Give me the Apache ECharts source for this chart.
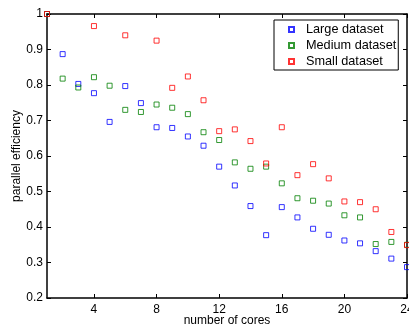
<!DOCTYPE html>
<html><head><meta charset="utf-8">
<script src="https://cdn.jsdelivr.net/npm/echarts@6/dist/echarts.min.js"></script>
<style>html,body{margin:0;padding:0;background:#fff}#c{width:409px;height:329px}</style>
</head><body><div id="c"></div>
<script>
var cores = [1,2,3,4,5,6,7,8,9,10,11,12,13,14,15,16,17,18,19,20,21,22,23,24];
var largeEff  = [1.0,0.887,0.803,0.777,0.696,0.797,0.749,0.681,0.679,0.655,0.629,0.570,0.517,0.459,0.377,0.456,0.427,0.395,0.378,0.362,0.354,0.332,0.311,0.287];
var mediumEff = [1.0,0.818,0.793,0.822,0.798,0.730,0.724,0.745,0.736,0.718,0.667,0.645,0.582,0.564,0.570,0.523,0.481,0.474,0.466,0.433,0.427,0.352,0.358,0.350];
var smallEff  = [1.0,null,null,0.966,null,0.940,null,0.925,0.792,0.824,0.757,0.670,0.675,0.642,0.579,0.681,0.546,0.577,0.537,0.472,0.470,0.450,0.386,0.349];
var seriesNames = ['Large dataset','Medium dataset','Small dataset'];
var colors = ['#0000ff','#008000','#ff0000'];
var xTicks = [4,8,12,16,20,24];

function pairs(vals){ var out=[]; for(var i=0;i<cores.length;i++){ if(vals[i]!==null) out.push([cores[i],vals[i]]); } return out; }
var allData = [largeEff, mediumEff, smallEff];
var font = 'Liberation Sans, Arial, sans-serif';
var chart = echarts.init(document.getElementById('c'));
var series = allData.map(function(d,i){
  return {name:seriesNames[i], type:'scatter', data:pairs(d), symbol:'rect', symbolSize:5,
    itemStyle:{color:'transparent', borderColor:colors[i], borderWidth:1}, clip:false, z:2+(i)};
});
chart.setOption({
  animation:false,
  backgroundColor:'#fff',
  grid:{left:47,right:2,top:14,bottom:31,outerBoundsMode:'none',containLabel:false},
  legend:{orient:'vertical', left:274, top:20, data:seriesNames,
    borderColor:'#000', borderWidth:1, backgroundColor:'#fff', padding:[3,2,2,14],
    itemGap:3, itemWidth:5, itemHeight:5, textStyle:{fontFamily:font,fontSize:12.7,color:'#000',padding:[0,0,0,7]}},
  xAxis:[{type:'value', min:1, max:24, position:'bottom', name:'number of cores', nameLocation:'middle', nameGap:17, nameMoveOverlap:false,
    nameTextStyle:{fontFamily:font,fontSize:12,color:'#000'},
    axisLine:{show:true,onZero:false,lineStyle:{color:'#000',width:1.5}},
    axisTick:{show:true,inside:true,length:4,customValues:xTicks,lineStyle:{color:'#000'}},
    axisLabel:{customValues:xTicks,fontFamily:font,fontSize:12,color:'#000',margin:6,hideOverlap:false},
    splitLine:{show:false}},
   {type:'value', min:1, max:24, position:'top',
    axisLine:{show:true,onZero:false,lineStyle:{color:'#000',width:1.5}},
    axisTick:{show:true,inside:true,length:4,customValues:xTicks,lineStyle:{color:'#000'}},
    axisLabel:{show:false}, splitLine:{show:false}}],
  yAxis:[{type:'value', min:0.2, max:1.0, interval:0.1, position:'left', name:'parallel efficiency', nameLocation:'middle', nameGap:24, nameMoveOverlap:false,
    nameTextStyle:{fontFamily:font,fontSize:12,color:'#000'},
    axisLine:{show:true,onZero:false,lineStyle:{color:'#000',width:1.5}},
    axisTick:{show:true,inside:true,length:4,lineStyle:{color:'#000'}},
    axisLabel:{fontFamily:font,fontSize:12,color:'#000',margin:4,formatter:function(v){return Math.abs(v-1)<1e-9?'1':v.toFixed(1);}},
    splitLine:{show:false}},
   {type:'value', min:0.2, max:1.0, interval:0.1, position:'right',
    axisLine:{show:true,onZero:false,lineStyle:{color:'#000',width:1.5}},
    axisTick:{show:true,inside:true,length:4,lineStyle:{color:'#000'}},
    axisLabel:{show:false}, splitLine:{show:false}}],
  series:series
});
</script></body></html>
